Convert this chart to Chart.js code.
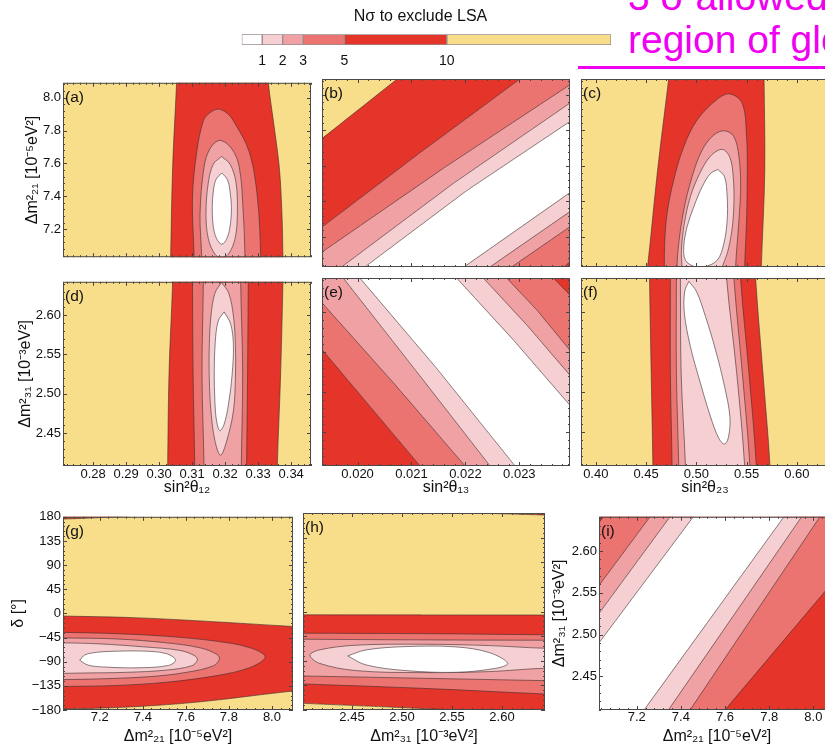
<!DOCTYPE html>
<html>
<head>
<meta charset="utf-8">
<script src="https://cdn.jsdelivr.net/npm/chart.js@4.4.1/dist/chart.umd.min.js"></script>
<style>
  html, body { margin: 0; padding: 0; background: #fff; overflow: hidden; }
  body { width: 825px; height: 746px; position: relative; font-family: "Liberation Sans", Arial, Helvetica, sans-serif; }
  #note { position: absolute; left: 628px; top: -25px; font-size: 39px; line-height: 43px; color: #f000f0; white-space: nowrap; }
  #rule { position: absolute; left: 578px; top: 66px; width: 260px; height: 3px; background: #f000f0; }
</style>
</head>
<body>
<div id="note">3 σ allowed<br>region of global fit</div>
<div id="rule"></div>
<script>
// tick values per axis
const s12Ticks = [0.28, 0.29, 0.30, 0.31, 0.32, 0.33, 0.34];
const s13Ticks = [0.020, 0.021, 0.022, 0.023];
const s23Ticks = [0.40, 0.45, 0.50, 0.55, 0.60];
const dm21Ticks = [7.2, 7.4, 7.6, 7.8, 8.0];
const dm31Ticks = [2.45, 2.50, 2.55, 2.60];
const deltaTicks = [-180, -135, -90, -45, 0, 45, 90, 135, 180];

// N sigma levels and colour bar
const levels = [1, 2, 3, 5, 10];
const levelColors = ["#ffffff", "#f6cfd2", "#f0a1a3", "#eb7370", "#e5352a", "#f8dd8a"];
const cbEdges = [0, 1, 2, 3, 5, 10, 18];
const cbTicks = [1, 2, 3, 5, 10];

// contour regions (N < level), [x, y] in data units
// (a) sin2 th12 vs dm21
const a10 = [[0.3057,8.30],[0.3053,8.09],[0.3041,7.576],[0.3035,7.03],[0.3033,6.85],[0.3377,6.85],[0.3375,7.03],[0.3372,7.294],[0.3364,7.576],[0.3346,7.859],[0.3331,8.09],[0.3326,8.30],[0.3057,8.30]];
const a5 = [[0.3106,6.85],[0.3106,7.03],[0.3101,7.388],[0.3114,7.670],[0.3134,7.859],[0.3152,7.905],[0.3179,7.930],[0.3206,7.905],[0.3225,7.859],[0.3273,7.670],[0.3298,7.388],[0.3308,7.03],[0.3308,6.85],[0.3106,6.85]];
const a3 = [[0.3129,6.85],[0.3129,7.03],[0.3124,7.294],[0.3136,7.576],[0.3154,7.689],[0.3184,7.740],[0.3220,7.689],[0.3243,7.576],[0.3255,7.294],[0.3260,7.03],[0.3260,6.85],[0.3129,6.85]];
const a2 = [[0.3189,7.642],[0.3215,7.595],[0.3233,7.482],[0.3237,7.294],[0.3230,7.143],[0.3210,7.049],[0.3189,7.026],[0.3169,7.049],[0.3149,7.143],[0.3142,7.294],[0.3149,7.482],[0.3164,7.595],[0.3189,7.642]];
const a1 = [[0.3190,7.542],[0.3207,7.501],[0.3215,7.426],[0.3219,7.331],[0.3215,7.218],[0.3205,7.143],[0.3190,7.109],[0.3174,7.143],[0.3164,7.218],[0.3161,7.331],[0.3164,7.426],[0.3172,7.501],[0.3190,7.542]];
// (b) sin2 th13 vs dm21
const b10 = [[0.0190,7.672],[0.019344,7.755],[0.020735,8.090],[0.0216,8.30],[0.0245,8.30],[0.0245,6.90],[0.0190,6.90],[0.0190,7.672]];
const b5 = [[0.0190,7.177],[0.019344,7.256],[0.021156,7.674],[0.023011,8.090],[0.02395,8.30],[0.0245,8.30],[0.0245,7.208],[0.023933,7.058],[0.023827,7.030],[0.023335,6.90],[0.0190,6.90],[0.0190,7.177]];
const b3 = [[0.0190,7.043],[0.019344,7.115],[0.021589,7.586],[0.023933,8.056],[0.0245,8.170],[0.0245,7.375],[0.023933,7.256],[0.022856,7.030],[0.022236,6.90],[0.0190,6.90],[0.0190,7.043]];
const b2 = [[0.019131,6.90],[0.019703,7.030],[0.021774,7.501],[0.023933,7.953],[0.0245,8.072],[0.0245,7.460],[0.023933,7.341],[0.022455,7.030],[0.021837,6.90],[0.019131,6.90]];
const b1 = [[0.019565,6.90],[0.020135,7.030],[0.022021,7.460],[0.023933,7.849],[0.0245,7.964],[0.0245,7.569],[0.023933,7.448],[0.021972,7.030],[0.021362,6.90],[0.019565,6.90]];
// (c) sin2 th23 vs dm21
const c10 = [[0.4767,8.30],[0.4725,8.09],[0.4615,7.576],[0.4515,7.03],[0.4470,6.85],[0.5640,6.85],[0.5647,7.03],[0.5681,7.576],[0.5674,8.09],[0.5670,8.30],[0.4767,8.30]];
const c5 = [[0.4682,6.85],[0.4682,7.030],[0.4685,7.162],[0.4709,7.331],[0.4775,7.520],[0.4875,7.708],[0.5008,7.859],[0.5208,7.976],[0.5334,8.006],[0.5457,7.953],[0.5500,7.765],[0.5507,7.576],[0.5500,7.294],[0.5481,7.030],[0.5481,6.85],[0.4682,6.85]];
const c3 = [[0.4808,6.85],[0.4808,7.030],[0.4825,7.162],[0.4875,7.350],[0.4958,7.539],[0.5058,7.689],[0.5174,7.774],[0.5281,7.798],[0.5374,7.765],[0.5424,7.652],[0.5441,7.482],[0.5424,7.294],[0.5391,7.030],[0.5391,6.85],[0.4808,6.85]];
const c2 = [[0.4860,6.95],[0.4858,7.030],[0.4852,7.124],[0.4881,7.275],[0.4941,7.426],[0.5034,7.557],[0.5141,7.655],[0.5258,7.693],[0.5334,7.648],[0.5367,7.539],[0.5374,7.388],[0.5354,7.237],[0.5307,7.105],[0.5258,7.030],[0.5240,6.95],[0.4860,6.95]];
const c1 = [[0.5214,7.580],[0.5281,7.539],[0.5307,7.426],[0.5307,7.294],[0.5274,7.162],[0.5208,7.068],[0.5074,7.030],[0.4975,7.034],[0.4892,7.068],[0.4875,7.143],[0.4908,7.256],[0.4975,7.369],[0.5058,7.482],[0.5141,7.557],[0.5214,7.580]];
// (d) sin2 th12 vs dm31
const d10 = [[0.3043,2.70],[0.3041,2.6425],[0.3030,2.525],[0.3026,2.408],[0.3025,2.35],[0.3356,2.35],[0.3358,2.408],[0.3368,2.525],[0.3375,2.6425],[0.3377,2.70],[0.3043,2.70]];
const d5 = [[0.3100,2.70],[0.3101,2.6425],[0.3103,2.525],[0.3108,2.408],[0.3109,2.35],[0.3264,2.35],[0.3265,2.408],[0.3268,2.525],[0.3270,2.6425],[0.3271,2.70],[0.3100,2.70]];
const d3 = [[0.3134,2.70],[0.3134,2.6425],[0.3130,2.525],[0.3136,2.408],[0.3136,2.35],[0.3249,2.35],[0.3249,2.408],[0.3253,2.525],[0.3247,2.6425],[0.3247,2.70],[0.3134,2.70]];
const d2 = [[0.3189,2.6417],[0.3211,2.6279],[0.3225,2.5988],[0.3231,2.5613],[0.3231,2.5196],[0.3225,2.4779],[0.3205,2.4404],[0.3186,2.4217],[0.3169,2.4404],[0.3157,2.4779],[0.3152,2.5196],[0.3152,2.5613],[0.3157,2.5988],[0.3169,2.6279],[0.3189,2.6417]];
const d1 = [[0.3197,2.6042],[0.3217,2.5883],[0.3225,2.5613],[0.3221,2.5238],[0.3210,2.4863],[0.3197,2.4613],[0.3184,2.4529],[0.3174,2.4654],[0.3169,2.4904],[0.3167,2.5279],[0.3170,2.5654],[0.3179,2.5925],[0.3197,2.6042]];
// (e) sin2 th13 vs dm31
const e10 = [[0.0190,2.35],[0.0245,2.35],[0.0245,2.70],[0.0190,2.70],[0.0190,2.35]];
const e5 = [[0.0190,2.5804],[0.019344,2.5529],[0.021156,2.4083],[0.021887,2.35],[0.0245,2.35],[0.0245,2.5828],[0.023933,2.6217],[0.023630,2.6425],[0.022792,2.70],[0.0190,2.70],[0.0190,2.5804]];
const e3 = [[0.0190,2.6372],[0.019344,2.6113],[0.020661,2.5121],[0.021991,2.4083],[0.022738,2.35],[0.0245,2.35],[0.0245,2.5066],[0.023933,2.5529],[0.023321,2.6029],[0.022764,2.6425],[0.021955,2.70],[0.0190,2.70],[0.0190,2.6372]];
const e2 = [[0.019064,2.70],[0.019734,2.6425],[0.021094,2.5258],[0.022455,2.4083],[0.023131,2.35],[0.0245,2.35],[0.0245,2.4773],[0.023933,2.5217],[0.023135,2.5842],[0.022331,2.6425],[0.021538,2.70],[0.019064,2.70]];
const e1 = [[0.019316,2.70],[0.020043,2.6425],[0.021465,2.5300],[0.022918,2.4083],[0.023614,2.35],[0.0245,2.35],[0.0245,2.4402],[0.023933,2.4842],[0.022887,2.5654],[0.021836,2.6425],[0.021053,2.70],[0.019316,2.70]];
// (f) sin2 th23 vs dm31
const f10 = [[0.4533,2.70],[0.4535,2.6425],[0.4551,2.525],[0.4568,2.408],[0.4570,2.35],[0.5740,2.35],[0.5733,2.408],[0.5662,2.525],[0.5590,2.6425],[0.5575,2.70],[0.4533,2.70]];
const f5 = [[0.4742,2.70],[0.4742,2.6425],[0.4742,2.525],[0.4759,2.408],[0.4760,2.35],[0.5600,2.35],[0.5597,2.408],[0.5523,2.525],[0.5440,2.6425],[0.5425,2.70],[0.4742,2.70]];
const f3 = [[0.4802,2.70],[0.4802,2.6425],[0.4802,2.525],[0.4825,2.408],[0.4827,2.35],[0.5537,2.35],[0.5533,2.408],[0.5457,2.525],[0.5374,2.6425],[0.5358,2.70],[0.4802,2.70]];
const f2 = [[0.4840,2.70],[0.4842,2.6425],[0.4849,2.525],[0.4892,2.408],[0.4900,2.35],[0.5490,2.35],[0.5481,2.408],[0.5401,2.525],[0.5301,2.6425],[0.5285,2.70],[0.4840,2.70]];
const f1 = [[0.4925,2.6383],[0.5001,2.6258],[0.5091,2.5946],[0.5191,2.5529],[0.5281,2.5071],[0.5334,2.4696],[0.5321,2.4446],[0.5281,2.4354],[0.5224,2.4425],[0.5141,2.4696],[0.5041,2.5113],[0.4941,2.5571],[0.4881,2.5988],[0.4885,2.6258],[0.4925,2.6383]];
// (g) dm21 vs delta
const g10 = [[6.90,-4.0],[7.0291,-4.9],[7.3553,-7.9],[7.6660,-14.0],[8.0978,-24.4],[8.25,-28],[8.25,-140],[8.0978,-144.6],[7.6660,-164.8],[7.3553,-173.9],[7.0291,-178.2],[6.90,-178.6],[6.90,-4.0]];
const g10b = [[6.90,175.3],[7.0291,175.7],[7.1534,177.6],[7.2777,180],[7.40,183],[7.40,200],[6.90,200],[6.90,175.3]];
const g5 = [[6.90,-35.3],[7.0291,-35.4],[7.2777,-37.8],[7.5107,-42.7],[7.7437,-51.9],[7.8990,-64.1],[7.9689,-81.2],[7.8990,-100.7],[7.7437,-115.9],[7.5107,-128.2],[7.2777,-134.3],[7.0291,-136.1],[6.90,-136.3],[6.90,-35.3]];
const g3 = [[6.90,-45.7],[7.0291,-45.8],[7.2777,-47.6],[7.5107,-54.9],[7.6660,-64.1],[7.7437,-76.3],[7.7561,-85.4],[7.7281,-97.6],[7.6039,-109.8],[7.4330,-117.8],[7.2,-122.0],[7.0291,-123.3],[6.90,-123.5],[6.90,-45.7]];
const g2 = [[6.90,-54.8],[7.0291,-54.9],[7.2,-56.8],[7.4019,-62.3],[7.5728,-69.0],[7.6427,-79.3],[7.6536,-87.3],[7.6272,-97.6],[7.5107,-105.6],[7.3243,-109.8],[7.1223,-111.1],[7.0291,-111.7],[6.90,-111.8],[6.90,-54.8]];
const g1 = [[7.1068,-87.3],[7.1301,-77.5],[7.1845,-72.6],[7.2466,-70.8],[7.4019,-70.2],[7.5107,-75.1],[7.5526,-87.3],[7.5184,-97.0],[7.3864,-101.3],[7.2311,-100.1],[7.1456,-96.4],[7.1068,-87.3]];
// (h) dm31 vs delta
const h10 = [[2.38,-6.1],[2.4007,-6.1],[2.52,-6.3],[2.6423,-6.4],[2.67,-6.4],[2.67,-197],[2.62,-185],[2.554,-180],[2.48,-174],[2.4007,-167.8],[2.38,-166.2],[2.38,-6.1]];
const h10b = [[2.55,181.3],[2.574,180],[2.6423,176.3],[2.67,174.8],[2.67,200],[2.55,200],[2.55,181.3]];
const h5 = [[2.38,-39.7],[2.4007,-39.7],[2.5207,-40.5],[2.6423,-42.5],[2.67,-42.7],[2.67,-152.0],[2.6423,-150.7],[2.5207,-140.4],[2.4007,-132.4],[2.38,-131.5],[2.38,-39.7]];
const h3 = [[2.38,-50.7],[2.4007,-50.7],[2.5207,-51.9],[2.6423,-52.5],[2.67,-52.5],[2.67,-127],[2.6423,-126.3],[2.5207,-122.0],[2.4007,-117.8],[2.38,-117.3],[2.38,-50.7]];
const h2 = [[2.70,-67.1],[2.6423,-67.1],[2.5873,-62.3],[2.5207,-59.8],[2.454,-61.6],[2.4173,-70.2],[2.408,-79.9],[2.4173,-94.6],[2.454,-108.0],[2.5207,-111.7],[2.5873,-109.8],[2.6423,-103.7],[2.70,-103.7],[2.70,-67.1]];
const h1 = [[2.4457,-81.2],[2.464,-70.2],[2.504,-64.1],[2.554,-64.7],[2.5873,-75.1],[2.6057,-94.6],[2.594,-103.7],[2.554,-111.1],[2.504,-108.0],[2.464,-97.6],[2.4457,-81.2]];
// (i) dm21 vs dm31
const i10 = [[6.90,2.30],[8.30,2.30],[8.30,2.75],[6.90,2.75],[6.90,2.30]];
const i5 = [[6.90,2.5874],[7.0294,2.6341],[7.0490,2.6412],[7.3508,2.75],[8.30,2.75],[8.30,2.6292],[8.0530,2.5517],[7.6001,2.4096],[7.4102,2.35],[6.90,2.35],[6.90,2.5874]];
const i3 = [[6.90,2.5126],[7.0294,2.5588],[7.2604,2.6412],[7.5654,2.75],[8.3069,2.75],[8.0303,2.6412],[7.4415,2.4096],[7.2900,2.35],[6.90,2.35],[6.90,2.5126]];
const i2 = [[6.90,2.4788],[7.0294,2.5254],[7.3510,2.6412],[7.6531,2.75],[8.2310,2.75],[7.9473,2.6412],[7.3434,2.4096],[7.1880,2.35],[6.90,2.35],[6.90,2.4788]];
const i1 = [[6.90,2.4443],[7.0294,2.4901],[7.4566,2.6412],[7.7642,2.75],[8.1652,2.75],[7.8673,2.6412],[7.2332,2.4096],[7.0700,2.35],[6.90,2.35],[6.90,2.4443]];

const FONT = '"Liberation Sans", Arial, Helvetica, sans-serif';
Chart.defaults.font.family = FONT;
Chart.defaults.color = "#111";
Chart.defaults.animation = false;

const SM = 0.35, ST = 0.0001; // smooth / straight outlines
const lineColor = "rgba(60,45,45,0.75)";
const levelColor = (l) => levelColors[levels.indexOf(l)];
const fmt = (d) => (v) => (v < 0 ? "\u2212" : "") + Math.abs(v).toFixed(d);

// yellow background, filled contour regions, frame with inner ticks, panel letter
const frame = {
  id: "frame",
  beforeDatasetsDraw(chart, args, o) {
    const { ctx, chartArea: a } = chart;
    ctx.save();
    ctx.fillStyle = o.base;
    ctx.fillRect(a.left, a.top, a.width, a.height);
    ctx.restore();
  },
  beforeDatasetDraw(chart, args) {
    const line = args.meta.dataset;
    if (!line) return;
    const { ctx, chartArea: a } = chart;
    line.updateControlPoints(a, "x");
    ctx.save();
    ctx.beginPath();
    ctx.rect(a.left, a.top, a.width, a.height);
    ctx.clip();
    ctx.beginPath();
    line.path(ctx);
    ctx.closePath();
    ctx.fillStyle = line.options.backgroundColor;
    ctx.fill();
    ctx.restore();
  },
  afterDatasetsDraw(chart, args, o) {
    const { ctx, chartArea: a, scales } = chart;
    ctx.save();
    ctx.strokeStyle = "#444";
    ctx.lineWidth = 1;
    ctx.beginPath();
    for (const id of ["x", "y"]) {
      const s = scales[id];
      const t = s.ticks.map((k) => k.value);
      if (t.length < 2) continue;
      const minor = (t[1] - t[0]) / 5;
      const k0 = Math.ceil((s.min - t[0]) / minor - 1e-6);
      const k1 = Math.floor((s.max - t[0]) / minor + 1e-6);
      for (let k = k0; k <= k1; k++) {
        const len = (((k % 5) + 5) % 5 === 0) ? 4 : 2;
        const p = Math.round(s.getPixelForValue(t[0] + k * minor)) + 0.5;
        if (id === "x") {
          ctx.moveTo(p, a.top); ctx.lineTo(p, a.top + len);
          ctx.moveTo(p, a.bottom); ctx.lineTo(p, a.bottom - len);
        } else {
          ctx.moveTo(a.left, p); ctx.lineTo(a.left + len, p);
          ctx.moveTo(a.right, p); ctx.lineTo(a.right - len, p);
        }
      }
    }
    ctx.stroke();
    ctx.strokeStyle = "#4a4a4a";
    ctx.strokeRect(a.left + 0.5, a.top + 0.5, a.width - 1, a.height - 1);
    ctx.fillStyle = "#111";
    ctx.font = "15.5px " + FONT;
    ctx.textBaseline = "top";
    ctx.fillText(o.label, a.left + 2, a.top + 7);
    ctx.restore();
  }
};

function axis(pos, range, ticks, dec, show, title, tpad, size, lpad) {
  return {
    type: "linear",
    position: pos,
    min: range[0],
    max: range[1],
    afterBuildTicks: (s) => {
      s.ticks = ticks.filter((v) => v >= s.min - 1e-9 && v <= s.max + 1e-9).map((v) => ({ value: v }));
    },
    afterFit: (s) => {
      if (pos === "left") s.width = size; else s.height = size;
    },
    grid: { display: false, drawTicks: false },
    border: { display: false },
    ticks: { display: show, font: { size: 13 }, color: "#111", padding: lpad, callback: fmt(dec), maxRotation: 0, autoSkip: false },
    title: {
      display: !!title,
      text: title || "",
      font: { size: 16 },
      color: "#111",
      padding: pos === "left" ? { top: tpad, bottom: 0 } : { top: 0, bottom: tpad }
    }
  };
}

const D21 = "\u0394m\u00b2\u2082\u2081 [10\u207b\u2075eV\u00b2]";
const D31 = "\u0394m\u00b2\u2083\u2081 [10\u207b\u00b3eV\u00b2]";

const panels = [
  { label: "(a)", L: 63, T: 79, W: 248, H: 188, yw: 63, xh: 0, xr: [0.2709, 0.3460], yr: [7.03, 8.09], xt: s12Ticks, yt: dm21Ticks, xd: 2, yd: 1,
    yTitle: D21, ytp: 23, contours: [[10, a10, SM], [5, a5, SM], [3, a3, SM], [2, a2, SM], [1, a1, SM]] },
  { label: "(b)", L: 322, T: 79, W: 248, H: 188, yw: 0, xh: 0, xr: [0.01934, 0.02394], yr: [7.03, 8.09], xt: s13Ticks, yt: dm21Ticks, xd: 3, yd: 1,
    contours: [[10, b10, ST], [5, b5, ST], [3, b3, ST], [2, b2, ST], [1, b1, ST]] },
  { label: "(c)", L: 581, T: 79, W: 248, H: 188, yw: 0, xh: 0, xr: [0.3853, 0.6320], yr: [7.03, 8.09], xt: s23Ticks, yt: dm21Ticks, xd: 2, yd: 1,
    contours: [[10, c10, SM], [5, c5, SM], [3, c3, SM], [2, c2, SM], [1, c1, SM]] },
  { label: "(d)", L: 63, T: 278, W: 248, H: 188, yw: 63, xh: 32, xr: [0.2709, 0.3460], yr: [2.408, 2.6425], xt: s12Ticks, yt: dm31Ticks, xd: 2, yd: 2,
    yTitle: D31, ytp: 16, xTitle: "sin\u00b2\u03b8\u2081\u2082", xtp: 1, xlp: 1,
    contours: [[10, d10, SM], [5, d5, SM], [3, d3, SM], [2, d2, SM], [1, d1, SM]] },
  { label: "(e)", L: 322, T: 278, W: 248, H: 188, yw: 0, xh: 32, xr: [0.01934, 0.02394], yr: [2.408, 2.6425], xt: s13Ticks, yt: dm31Ticks, xd: 3, yd: 2,
    xTitle: "sin\u00b2\u03b8\u2081\u2083", xtp: 1, xlp: 1,
    contours: [[10, e10, ST], [5, e5, ST], [3, e3, ST], [2, e2, ST], [1, e1, ST]] },
  { label: "(f)", L: 581, T: 278, W: 248, H: 188, yw: 0, xh: 32, xr: [0.3853, 0.6320], yr: [2.408, 2.6425], xt: s23Ticks, yt: dm31Ticks, xd: 2, yd: 2,
    xTitle: "sin\u00b2\u03b8\u2082\u2083", xtp: 1, xlp: 1,
    contours: [[10, f10, SM], [5, f5, SM], [3, f3, SM], [2, f2, SM], [1, f1, SM]] },
  { label: "(g)", L: 63, T: 513, W: 230, H: 197, yw: 63, xh: 36, xr: [7.029, 8.098], yr: [-180, 180], xt: dm21Ticks, yt: deltaTicks, xd: 1, yd: 0,
    yTitle: "\u03b4 [\u00b0]", ytp: 9, xTitle: D21, xtp: 0, xlp: 0,
    contours: [[10, g10, SM], [10, g10b, ST], [5, g5, SM], [3, g3, SM], [2, g2, SM], [1, g1, SM]] },
  { label: "(h)", L: 303, T: 513, W: 242, H: 197, yw: 0, xh: 36, xr: [2.401, 2.643], yr: [-180, 180], xt: dm31Ticks, yt: deltaTicks, xd: 2, yd: 0,
    xTitle: D31, xtp: 0, xlp: 0,
    contours: [[10, h10, ST], [10, h10b, ST], [5, h5, SM], [3, h3, SM], [2, h2, SM], [1, h1, SM]] },
  { label: "(i)", L: 599, T: 513, W: 236, H: 197, yw: 49, xh: 36, xr: [7.029, 8.098], yr: [2.4096, 2.641], xt: dm21Ticks, yt: dm31Ticks, xd: 1, yd: 2,
    yTitle: D31, ytp: 0, xTitle: D21, xtp: 0, xlp: 0,
    contours: [[10, i10, ST], [5, i5, ST], [3, i3, ST], [2, i2, ST], [1, i1, ST]] }
];

function addCanvas(left, top, w, h) {
  const cv = document.createElement("canvas");
  cv.width = w;
  cv.height = h;
  cv.style.cssText = `position:absolute;left:${left}px;top:${top}px;width:${w}px;height:${h}px;`;
  document.body.appendChild(cv);
  return cv;
}

const PAD = 6;
for (const p of panels) {
  const w = p.yw + p.W + PAD, h = PAD + p.H + p.xh;
  const cv = addCanvas(p.L - p.yw, p.T - PAD, w, h);
  new Chart(cv, {
    type: "scatter",
    data: {
      datasets: p.contours.map(([lvl, pts, ten]) => ({
        data: pts.map(([x, y]) => ({ x, y })),
        showLine: true,
        tension: ten,
        order: lvl,
        backgroundColor: levelColor(lvl),
        borderColor: lineColor,
        borderWidth: 0.8,
        pointRadius: 0,
        fill: false
      }))
    },
    options: {
      responsive: false,
      animation: false,
      events: [],
      layout: { padding: { top: PAD, right: PAD, left: 0, bottom: 0 } },
      elements: { line: { capBezierPoints: false } },
      plugins: {
        legend: { display: false },
        tooltip: { enabled: false },
        frame: { label: p.label, base: levelColors[5] }
      },
      scales: {
        x: axis("bottom", p.xr, p.xt, p.xd, p.xh > 0, p.xTitle, p.xtp || 0, p.xh, p.xlp || 0),
        y: axis("left", p.yr, p.yt, p.yd, p.yw > 0, p.yTitle, p.ytp || 0, p.yw, 2)
      }
    },
    plugins: [frame]
  });
}

// colour bar
const cbCanvas = addCanvas(200, 0, 420, 75);
new Chart(cbCanvas, {
  type: "bar",
  data: {
    labels: [""],
    datasets: cbEdges.slice(0, -1).map((lo, i) => ({
      data: [[lo, cbEdges[i + 1]]],
      backgroundColor: levelColors[i],
      borderColor: "#9a8c8c",
      borderWidth: 1,
      borderSkipped: false
    }))
  },
  options: {
    indexAxis: "y",
    responsive: false,
    animation: false,
    events: [],
    datasets: { bar: { grouped: false, barPercentage: 1, categoryPercentage: 1 } },
    layout: { padding: { left: 30, right: 9, top: 0, bottom: 0 } },
    plugins: {
      legend: { display: false },
      tooltip: { enabled: false },
      title: { display: true, text: "N\u03c3 to exclude LSA", font: { size: 16, weight: "normal" }, color: "#111", padding: { top: 7.4, bottom: 7.7 } }
    },
    scales: {
      x: {
        type: "linear",
        min: 0,
        max: 18,
        afterBuildTicks: (s) => { s.ticks = cbTicks.map((v) => ({ value: v })); },
        afterFit: (s) => { s.height = 30; },
        grid: { display: false, drawTicks: false },
        border: { display: false },
        ticks: { font: { size: 14 }, color: "#111", padding: 7.6, callback: (v) => String(v), autoSkip: false, maxRotation: 0 }
      },
      y: {
        afterFit: (s) => { s.width = 11.7; },
        grid: { display: false, drawTicks: false },
        border: { display: false },
        ticks: { display: false }
      }
    }
  }
});
</script>
</body>
</html>
